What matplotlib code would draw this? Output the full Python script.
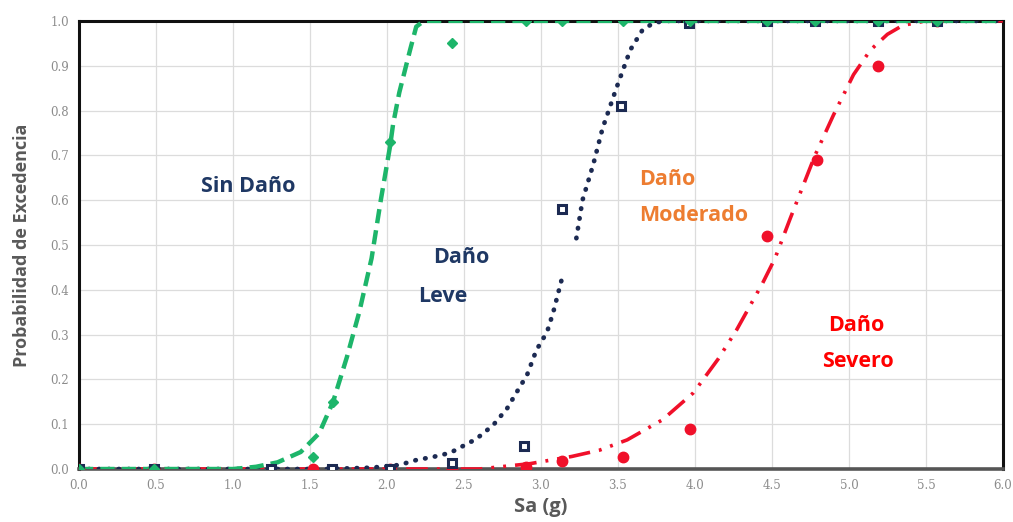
import matplotlib
matplotlib.use("Agg")
import matplotlib.pyplot as plt

# curvas de fragilidad leídas punto a punto (Sa en g, probabilidad)
leve_x = [0.0, 1.0, 1.15, 1.29, 1.44, 1.56, 1.65, 1.74, 1.82, 1.90, 1.96, 2.02, 2.04, 2.08, 2.15, 2.19, 2.24, 6.0]
leve_y = [0.0, 0.0, 0.005, 0.015, 0.038, 0.08, 0.15, 0.25, 0.35, 0.47, 0.60, 0.72, 0.77, 0.84, 0.935, 0.987, 1.0, 1.0]

mod_x_a = [0.0, 1.6, 1.9, 2.08, 2.19, 2.30, 2.41, 2.47, 2.58, 2.69, 2.78, 2.84, 2.91, 2.97, 3.04, 3.08, 3.14]
mod_y_a = [0.0, 0.0, 0.003, 0.009, 0.02, 0.027, 0.036, 0.047, 0.067, 0.098, 0.135, 0.17, 0.21, 0.265, 0.306, 0.35, 0.43]
mod_x_b = [3.23, 3.27, 3.34, 3.40, 3.49, 3.58, 3.66, 3.73, 3.80, 6.0]
mod_y_b = [0.515, 0.60, 0.68, 0.76, 0.85, 0.935, 0.98, 0.995, 1.0, 1.0]

sev_x = [0.0, 2.6, 2.93, 3.2, 3.38, 3.56, 3.79, 3.99, 4.15, 4.27, 4.44, 4.52, 4.62, 4.78, 4.90, 5.03, 5.14, 5.25, 5.35, 5.5, 6.0]
sev_y = [0.0, 0.0, 0.012, 0.028, 0.042, 0.065, 0.11, 0.17, 0.245, 0.31, 0.415, 0.47, 0.56, 0.70, 0.79, 0.88, 0.935, 0.97, 0.99, 1.0, 1.0]

# resultados de los análisis
pts_leve_x = [0.0, 0.49, 1.52, 1.65, 2.02, 2.42, 2.90, 3.14, 3.53, 3.97, 4.47, 4.78, 5.19, 5.57]
pts_leve_y = [0.0, 0.0, 0.027, 0.15, 0.73, 0.95, 1.0, 1.0, 1.0, 1.0, 1.0, 1.0, 1.0, 1.0]

pts_mod_x = [0.0, 0.49, 1.25, 1.64, 2.02, 2.42, 2.89, 3.14, 3.52, 3.96, 4.47, 4.78, 5.19, 5.57]
pts_mod_y = [0.0, 0.0, 0.0, 0.0, 0.0, 0.013, 0.051, 0.58, 0.81, 0.995, 1.0, 1.0, 1.0, 1.0]

pts_sev_x = [0.0, 0.49, 1.52, 2.02, 2.42, 2.90, 3.14, 3.53, 3.97, 4.47, 4.79, 5.19, 5.57]
pts_sev_y = [0.0, 0.0, 0.0, 0.0, 0.0, 0.005, 0.018, 0.027, 0.09, 0.52, 0.69, 0.90, 1.0]

verde = '#1db56a'
azul = '#1c2a52'
rojo = '#f0102a'

fig = plt.figure(figsize=(10.13, 5.22), dpi=100)
ax = fig.add_axes([0.078, 0.1015, 0.912, 0.8585])

ax.plot(sev_x, sev_y, color=rojo, lw=2.6, linestyle=(0, (6, 2.5, 0.8, 2.5, 0.8, 2.5)), zorder=3)
ax.plot(mod_x_a, mod_y_a, color=azul, lw=3.4, linestyle=(0, (0.1, 2.0)), dash_capstyle='round', zorder=4)
ax.plot(mod_x_b, mod_y_b, color=azul, lw=3.4, linestyle=(0, (0.1, 2.0)), dash_capstyle='round', zorder=4)
ax.plot(leve_x, leve_y, color=verde, lw=3.2, linestyle=(0, (3.2, 1.6)), zorder=5)

ax.plot(pts_sev_x, pts_sev_y, 'o', color=rojo, markersize=7.5, zorder=6)
ax.plot(pts_mod_x, pts_mod_y, 's', mfc='white', mec=azul, mew=2.2, markersize=6, zorder=7)
ax.plot(pts_leve_x, pts_leve_y, 'D', color=verde, markersize=5.5, zorder=8)

ax.set_xlim(0, 6)
ax.set_ylim(0, 1.0)
ax.set_xticks([i * 0.5 for i in range(13)])
ax.set_yticks([i * 0.1 for i in range(11)])
ax.xaxis.set_major_formatter(matplotlib.ticker.FormatStrFormatter('%.1f'))
ax.yaxis.set_major_formatter(matplotlib.ticker.FormatStrFormatter('%.1f'))
ax.tick_params(length=0, labelsize=8.5, labelcolor='#8c8c8c', pad=7)
for lab in ax.get_xticklabels() + ax.get_yticklabels():
    lab.set_family('DejaVu Serif')
ax.grid(True, color='#dcdcdc', lw=0.9)
ax.set_axisbelow(True)

for s in ['top', 'right', 'left']:
    ax.spines[s].set_color('#111111')
    ax.spines[s].set_linewidth(2.2)
ax.spines['bottom'].set_color('#555555')
ax.spines['bottom'].set_linewidth(2.6)

ax.set_xlabel('Sa (g)', family='Open Sans', weight='bold', fontsize=14.5, color='#595959', labelpad=4)
ax.set_ylabel('Probabilidad de Excedencia', family='Open Sans', weight='bold', fontsize=13, color='#595959', labelpad=14)

kw = dict(family='Open Sans', weight='bold', fontsize=15.5, ha='center', va='center')
ax.text(1.10, 0.63, 'Sin Daño', color='#1f3864', **kw)
ax.text(2.48, 0.473, 'Daño', color='#1f3864', **kw)
ax.text(2.36, 0.384, 'Leve', color='#1f3864', **kw)
ax.text(3.82, 0.645, 'Daño', color='#ed7d31', **kw)
ax.text(3.99, 0.565, 'Moderado', color='#ed7d31', **kw)
ax.text(5.05, 0.32, 'Daño', color='#ff0000', **kw)
ax.text(5.06, 0.24, 'Severo', color='#ff0000', **kw)

fig.savefig('out.png', dpi=100)
